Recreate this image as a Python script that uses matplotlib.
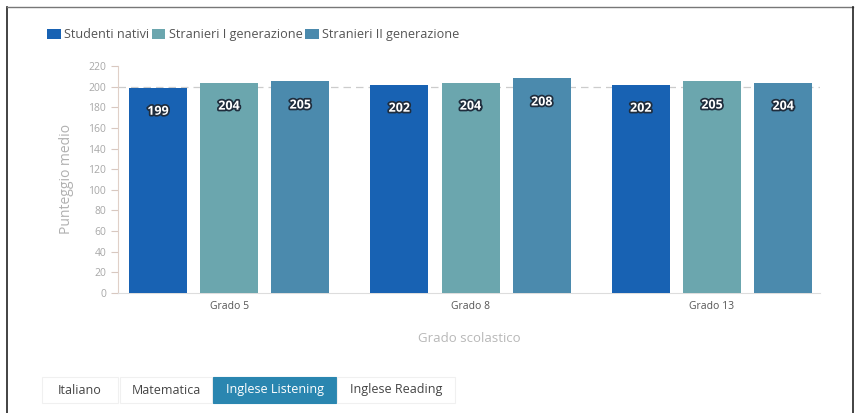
import numpy as np
import matplotlib.pyplot as plt
import matplotlib.patheffects as pe
from matplotlib.patches import Rectangle
from matplotlib.lines import Line2D

plt.rcParams['font.family'] = ['Open Sans', 'DejaVu Sans']

# data
grades = ['Grado 5', 'Grado 8', 'Grado 13']
series = ['Studenti nativi', 'Stranieri I generazione', 'Stranieri II generazione']
nativi = [199, 202, 202]
stranieri_1 = [204, 204, 205]
stranieri_2 = [205, 208, 204]
yticks = list(range(0, 221, 20))
tabs = ['Italiano', 'Matematica', 'Inglese Listening', 'Inglese Reading']

colors = ['#1862b3', '#6ba6ae', '#4b8aad']

fig = plt.figure(figsize=(8.55, 4.13), dpi=100)
W, H = 855, 413
ax = fig.add_axes([118 / W, 1 - 293 / H, (820 - 118) / W, (293 - 66) / H])

x = np.arange(len(grades))
offs = [-0.295, 0, 0.295]
width = 0.24
for vals, off, c, name in zip([nativi, stranieri_1, stranieri_2], offs, colors, series):
    bars = ax.bar(x + off, vals, width, color=c, label=name, zorder=3)
    for b, v in zip(bars, vals):
        ax.annotate(str(v), (b.get_x() + b.get_width() / 2, v), xytext=(0, -17),
                    textcoords='offset points', ha='center', va='center',
                    color='white', fontsize=9, fontweight='bold', zorder=4,
                    path_effects=[pe.withStroke(linewidth=2.5, foreground='#1f2d3d')])

ax.axhline(200, color='#cccccc', lw=0.9, ls=(0, (6, 4)), zorder=1)

ax.set_xlim(-0.46, 2.447)
ax.set_ylim(0, 220)
ax.set_yticks(yticks)
ax.set_xticks(x)
ax.set_xticklabels(grades)
ax.tick_params(axis='y', labelsize=7.5, colors='#d8c8c0', labelcolor='#a8a8a8', length=5, width=0.8)
ax.tick_params(axis='x', length=0, labelsize=7.5, labelcolor='#555555', pad=6)
for s in ['top', 'right']:
    ax.spines[s].set_visible(False)
ax.spines['left'].set_color('#e0d0c8')
ax.spines['bottom'].set_color('#dddddd')
ax.set_ylabel('Punteggio medio', color='#b0b0b0', fontsize=10, labelpad=10)
ax.set_xlabel('Grado scolastico', color='#b8b8b8', fontsize=9.5, labelpad=14)

# legend
ax.legend(loc='upper left', bbox_to_anchor=(36 / W, 1 - 17 / H), bbox_transform=fig.transFigure,
          ncol=3, frameon=False, fontsize=9.1, handlelength=1.05, handleheight=0.85,
          handletextpad=0.25, columnspacing=0.25, labelcolor='#555555')

# tabs
tab_x = [(42, 118), (120, 212), (213, 336), (337, 455)]
for (x0, x1), t in zip(tab_x, tabs):
    active = t == 'Inglese Listening'
    fig.patches.append(Rectangle((x0 / W, 1 - 403 / H), (x1 - x0) / W, 26 / H,
                                 transform=fig.transFigure,
                                 facecolor='#2a86b0' if active else 'white',
                                 edgecolor='#2a86b0' if active else '#f0f0f0', lw=0.8))
    fig.text((x0 + x1) / 2 / W, 1 - 390 / H, t, ha='center', va='center', fontsize=9,
             color='white' if active else '#444444')

# frame
fig.add_artist(Line2D([7 / W, 7 / W], [0, 1 - 7 / H], color='#222222', lw=1.2))
fig.add_artist(Line2D([7 / W, 853 / W], [1 - 7 / H, 1 - 7 / H], color='#777777', lw=1))
fig.add_artist(Line2D([853 / W, 853 / W], [0, 1 - 7 / H], color='#222222', lw=1.2))

fig.savefig('out.png', dpi=100)
